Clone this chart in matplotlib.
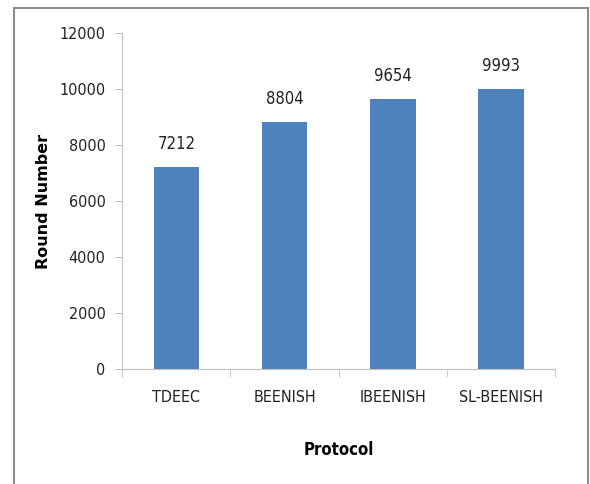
import matplotlib
matplotlib.use('Agg')
import matplotlib.pyplot as plt
from matplotlib.patches import Rectangle

protocols = ['TDEEC', 'BEENISH', 'IBEENISH', 'SL-BEENISH']
rounds = [7212, 8804, 9654, 9993]
yticks = [0, 2000, 4000, 6000, 8000, 10000, 12000]

BAR = '#4f81bd'
AXC = '#bfbfbf'
TXT = '#222222'
plt.rcParams['font.family'] = ['DejaVu Sans']
plt.rcParams['font.stretch'] = 'condensed'

fig = plt.figure(figsize=(5.9, 4.84), dpi=100, facecolor='white')
fig.patches.append(Rectangle((0.024, -0.02), 0.973, 1.003, transform=fig.transFigure,
                             fill=False, edgecolor='#8c8c8c', linewidth=1.5))
ax = fig.add_axes([0.207, 0.2376, 0.734, 0.6944])

x = range(len(protocols))
bars = ax.bar(x, rounds, width=0.42, color=BAR, edgecolor='none')
for b, v in zip(bars, rounds):
    ax.text(b.get_x() + b.get_width() / 2, v + 500, str(v), ha='center', va='bottom',
            fontsize=12, color=TXT)

ax.set_xlim(-0.5, len(protocols) - 0.5)
ax.set_ylim(0, 12000)
ax.set_yticks(yticks)
ax.set_yticklabels([str(t) for t in yticks], fontsize=11.5, color=TXT)
ax.set_xticks(list(x))
ax.set_xticklabels(protocols, fontsize=11.5, color=TXT)
ax.set_xticks([i - 0.5 for i in range(len(protocols) + 1)], minor=True)
ax.tick_params(axis='x', which='major', length=0, pad=15)
ax.tick_params(axis='x', which='minor', length=6, color=AXC, direction='out')
ax.tick_params(axis='y', length=5, color=AXC, direction='out', pad=7)

for s in ['top', 'right']:
    ax.spines[s].set_visible(False)
ax.spines['left'].set_color(AXC)
ax.spines['bottom'].set_color(AXC)

ax.set_xlabel('Protocol', fontsize=12, fontweight='bold', labelpad=26)
ax.set_ylabel('Round Number', fontsize=11.5, fontweight='bold', fontstretch='normal', labelpad=6)

plt.savefig('out.png', dpi=100, facecolor='white')
plt.close()
